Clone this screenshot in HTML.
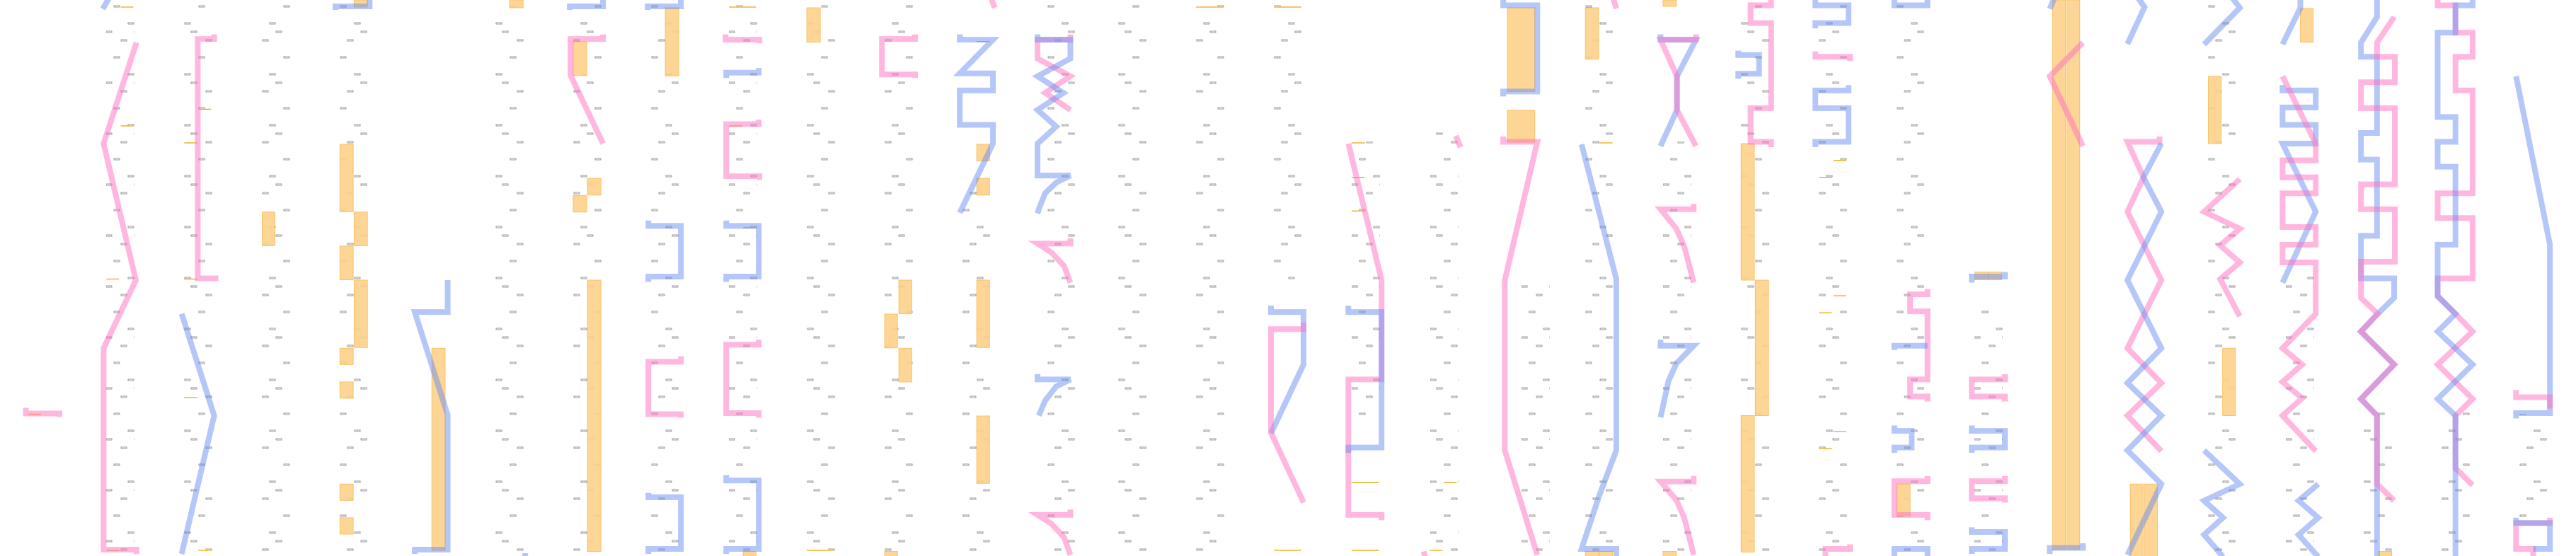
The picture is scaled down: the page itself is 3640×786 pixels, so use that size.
<!DOCTYPE html>
<html><head><meta charset="utf-8"><style>
html,body{margin:0;padding:0;background:#fff;}
svg{display:block;}
.p{fill:none;stroke:#ff70c0;stroke-opacity:.5;stroke-width:8;stroke-linejoin:miter;}
.b{fill:none;stroke:#6a8ff2;stroke-opacity:.5;stroke-width:8;stroke-linejoin:miter;}
.o{fill:#fdd08a;fill-opacity:.9;stroke:#f7c36a;stroke-width:1;}
.ol{stroke:#f0a400;stroke-width:2.5;}
</style></head><body>
<svg width="3640" height="786" viewBox="0 0 3640 786" xmlns="http://www.w3.org/2000/svg">
<defs>
<pattern id="d" patternUnits="userSpaceOnUse" width="40" height="72" y="7">
<rect x="1" y="1" width="8" height="2" fill="#fff" stroke="#999" stroke-width="1"/>
<rect x="21" y="25" width="8" height="2" fill="#fff" stroke="#999" stroke-width="1"/>
<rect x="11" y="49" width="8" height="2" fill="#fff" stroke="#999" stroke-width="1"/>
<rect x="30" y="37" width="8" height="2" fill="#fff" stroke="#999" stroke-width="1"/>
</pattern>
</defs>
<g fill="url(#d)">
<rect x="150" y="0" width="40" height="786"/><rect x="260" y="0" width="40" height="786"/>
<rect x="370" y="0" width="40" height="786"/><rect x="480" y="0" width="40" height="786"/>
<rect x="700" y="0" width="40" height="786"/><rect x="810" y="0" width="40" height="786"/>
<rect x="920" y="0" width="40" height="786"/><rect x="1030" y="0" width="40" height="786"/>
<rect x="1140" y="0" width="40" height="786"/><rect x="1250" y="0" width="40" height="786"/>
<rect x="1360" y="270" width="40" height="516"/><rect x="1480" y="0" width="40" height="786"/>
<rect x="1580" y="0" width="40" height="786"/><rect x="1690" y="0" width="40" height="786"/>
<rect x="1800" y="0" width="40" height="400"/><rect x="1910" y="200" width="40" height="400"/>
<rect x="2021" y="180" width="40" height="600"/><rect x="2150" y="400" width="40" height="386"/>
<rect x="2240" y="0" width="40" height="786"/><rect x="2350" y="200" width="40" height="586"/>
<rect x="2460" y="0" width="40" height="786"/><rect x="2570" y="0" width="40" height="786"/>
<rect x="2680" y="0" width="40" height="786"/><rect x="2790" y="420" width="40" height="366"/>
<rect x="3120" y="0" width="40" height="786"/><rect x="3230" y="380" width="40" height="406"/>
<rect x="3340" y="580" width="40" height="206"/><rect x="3450" y="580" width="40" height="206"/>
<rect x="3560" y="585" width="40" height="150"/>
</g>

<!-- zoom1 region 0-700 -->
<g transform="translate(0,0) scale(0.4464,0.5013)">
<rect class="o" vector-effect="non-scaling-stroke" x="830" y="598" width="40" height="95"/>
<rect class="o" vector-effect="non-scaling-stroke" x="1076" y="407" width="42" height="190"/>
<rect class="o" vector-effect="non-scaling-stroke" x="1121" y="598" width="42" height="95"/>
<rect class="o" vector-effect="non-scaling-stroke" x="1076" y="694" width="42" height="95"/>
<rect class="o" vector-effect="non-scaling-stroke" x="1121" y="790" width="42" height="190"/>
<rect class="o" vector-effect="non-scaling-stroke" x="1076" y="982" width="42" height="46"/>
<rect class="o" vector-effect="non-scaling-stroke" x="1076" y="1077" width="42" height="46"/>
<rect class="o" vector-effect="non-scaling-stroke" x="1076" y="1365" width="42" height="46"/>
<rect class="o" vector-effect="non-scaling-stroke" x="1076" y="1460" width="42" height="46"/>
<rect class="o" vector-effect="non-scaling-stroke" x="1121" y="0" width="42" height="20"/>
<rect class="o" vector-effect="non-scaling-stroke" x="1367" y="982" width="42" height="570"/>
<g class="ol" vector-effect="non-scaling-stroke">
<line x1="382" y1="20" x2="422" y2="20"/><line x1="382" y1="355" x2="422" y2="355"/>
<line x1="337" y1="787" x2="377" y2="787"/><line x1="337" y1="1552" x2="377" y2="1552"/>
<line x1="628" y1="308" x2="668" y2="308"/><line x1="583" y1="403" x2="625" y2="403"/>
<line x1="583" y1="787" x2="625" y2="787"/><line x1="583" y1="1121" x2="625" y2="1121"/>
<line x1="628" y1="1552" x2="668" y2="1552"/><line x1="90" y1="1168" x2="130" y2="1168"/>
</g>
<polyline class="b" vector-effect="non-scaling-stroke" points="345,-5 325,25"/>
<polyline class="p" vector-effect="non-scaling-stroke" points="82,1150 82,1166 188,1166 188,1176"/>
<polyline class="p" vector-effect="non-scaling-stroke" points="432,120 328,405 430,790 328,982 328,1550 432,1550 432,1562"/>
<polyline class="p" vector-effect="non-scaling-stroke" points="678,97 678,110 626,110 626,785 682,785 682,792"/>
<polyline class="b" vector-effect="non-scaling-stroke" points="575,885 678,1172 575,1562"/>
<polyline class="b" vector-effect="non-scaling-stroke" points="1062,28 1062,18 1170,18 1170,-5"/>
<polyline class="b" vector-effect="non-scaling-stroke" points="1417,790 1417,880 1313,880 1417,1170 1417,1550 1313,1550 1313,1562"/>
</g>

<!-- zoom3 region 700-1450 -->
<g transform="translate(700,0) scale(0.4783,0.5013)">
<rect class="o" vector-effect="non-scaling-stroke" x="42" y="0" width="40" height="22"/>
<rect class="o" vector-effect="non-scaling-stroke" x="230" y="118" width="40" height="95"/>
<rect class="o" vector-effect="non-scaling-stroke" x="272" y="503" width="40" height="47"/>
<rect class="o" vector-effect="non-scaling-stroke" x="230" y="551" width="40" height="47"/>
<rect class="o" vector-effect="non-scaling-stroke" x="502" y="22" width="40" height="192"/>
<rect class="o" vector-effect="non-scaling-stroke" x="920" y="22" width="40" height="97"/>
<rect class="o" vector-effect="non-scaling-stroke" x="1422" y="407" width="38" height="47"/>
<rect class="o" vector-effect="non-scaling-stroke" x="1422" y="503" width="38" height="47"/>
<rect class="o" vector-effect="non-scaling-stroke" x="272" y="790" width="40" height="765"/>
<rect class="o" vector-effect="non-scaling-stroke" x="1192" y="790" width="38" height="95"/>
<rect class="o" vector-effect="non-scaling-stroke" x="1150" y="886" width="38" height="95"/>
<rect class="o" vector-effect="non-scaling-stroke" x="1192" y="982" width="38" height="95"/>
<rect class="o" vector-effect="non-scaling-stroke" x="1422" y="790" width="38" height="190"/>
<rect class="o" vector-effect="non-scaling-stroke" x="1422" y="1173" width="38" height="190"/>
<rect class="o" vector-effect="non-scaling-stroke" x="1150" y="1555" width="38" height="15"/>
<rect class="o" vector-effect="non-scaling-stroke" x="732" y="1555" width="38" height="15"/>
<g class="ol" vector-effect="non-scaling-stroke">
<line x1="690" y1="20" x2="770" y2="20"/><line x1="690" y1="355" x2="730" y2="355"/>
<line x1="732" y1="642" x2="770" y2="642"/><line x1="1422" y1="117" x2="1460" y2="117"/>
<line x1="920" y1="1552" x2="1000" y2="1552"/>
</g>
<polyline class="b" vector-effect="non-scaling-stroke" points="220,28 220,18 318,18 318,-5"/>
<polyline class="p" vector-effect="non-scaling-stroke" points="318,97 318,110 222,110 222,212 318,405"/>
<polyline class="b" vector-effect="non-scaling-stroke" points="450,28 450,18 548,18 548,-5"/>
<polyline class="p" vector-effect="non-scaling-stroke" points="680,97 680,112 780,112 780,122"/>
<polyline class="b" vector-effect="non-scaling-stroke" points="682,220 682,205 778,205 778,192"/>
<polyline class="p" vector-effect="non-scaling-stroke" points="778,337 778,350 682,350 682,497 780,497 780,507"/>
<polyline class="p" vector-effect="non-scaling-stroke" points="1240,97 1240,110 1142,110 1142,210 1240,210 1240,220"/>
<polyline class="p" vector-effect="non-scaling-stroke" points="1465,-5 1475,22"/>
<polyline class="b" vector-effect="non-scaling-stroke" points="1372,97 1372,112 1470,112 1372,207 1470,207 1470,255 1372,255 1372,352 1470,352 1470,405 1372,600"/>
<polyline class="b" vector-effect="non-scaling-stroke" points="452,622 452,637 548,637 548,780 452,780 452,795"/>
<polyline class="b" vector-effect="non-scaling-stroke" points="682,622 682,637 778,637 778,780 682,780 682,795"/>
<polyline class="p" vector-effect="non-scaling-stroke" points="548,1005 548,1020 452,1020 452,1168 548,1168 548,1178"/>
<polyline class="p" vector-effect="non-scaling-stroke" points="778,958 778,972 682,972 682,1165 778,1165 778,1178"/>
<polyline class="b" vector-effect="non-scaling-stroke" points="452,1390 452,1402 548,1402 548,1548 452,1548 452,1562"/>
<polyline class="b" vector-effect="non-scaling-stroke" points="682,1340 682,1355 778,1355 778,1548 682,1548 682,1562"/>
<polyline class="b" vector-effect="non-scaling-stroke" points="88,1560 88,1575"/>
</g>

<!-- zoom4 region 1450-2150 -->
<g transform="translate(1450,0) scale(0.4464,0.5013)">
<g class="ol" vector-effect="non-scaling-stroke">
<line x1="538" y1="20" x2="624" y2="20"/><line x1="785" y1="20" x2="870" y2="20"/>
<line x1="785" y1="1552" x2="870" y2="1552"/><line x1="1030" y1="1552" x2="1117" y2="1552"/>
<line x1="1030" y1="1361" x2="1117" y2="1361"/><line x1="1030" y1="403" x2="1072" y2="403"/>
<line x1="1030" y1="500" x2="1072" y2="500"/><line x1="1030" y1="595" x2="1072" y2="595"/>
<line x1="1322" y1="1361" x2="1363" y2="1361"/><line x1="1278" y1="1552" x2="1318" y2="1552"/>
</g>
<polyline class="p" vector-effect="non-scaling-stroke" points="140,97 140,112 36,112 36,165 140,215 60,262 140,310"/>
<polyline class="b" vector-effect="non-scaling-stroke" points="36,97 36,112 140,112 140,165 36,215 118,262 36,310 95,357 36,405 36,495 140,495 95,515 60,545 40,590 36,602"/>
<polyline class="p" vector-effect="non-scaling-stroke" points="140,672 140,687 36,687 80,712 120,750 140,797"/>
<polyline class="b" vector-effect="non-scaling-stroke" points="36,1055 36,1070 140,1070 95,1090 60,1130 40,1172"/>
<polyline class="p" vector-effect="non-scaling-stroke" points="140,1437 140,1452 36,1452 80,1477 120,1515 140,1565"/>
<polyline class="b" vector-effect="non-scaling-stroke" points="775,862 775,880 878,880 878,1028 775,1222"/>
<polyline class="p" vector-effect="non-scaling-stroke" points="878,910 878,928 775,928 775,1220 878,1417"/>
<polyline class="p" vector-effect="non-scaling-stroke" points="1020,405 1125,790 1125,1070 1020,1070 1020,1452 1125,1452 1125,1467"/>
<polyline class="b" vector-effect="non-scaling-stroke" points="1020,862 1020,880 1125,880 1125,1262 1020,1262 1020,1277"/>
<polyline class="p" vector-effect="non-scaling-stroke" points="1360,383 1375,415"/>
<polyline class="p" vector-effect="non-scaling-stroke" points="1258,1555 1265,1575"/>
</g>

<!-- zoom5 region 2150-2850 -->
<g transform="translate(2150,0) scale(0.4464,0.5013)">
<rect class="o" vector-effect="non-scaling-stroke" x="-45" y="22" width="87" height="236"/>
<rect class="o" vector-effect="non-scaling-stroke" x="-45" y="311" width="87" height="90"/>
<rect class="o" vector-effect="non-scaling-stroke" x="202" y="22" width="42" height="145"/>
<rect class="o" vector-effect="non-scaling-stroke" x="202" y="1555" width="42" height="15"/>
<rect class="o" vector-effect="non-scaling-stroke" x="246" y="1555" width="42" height="15"/>
<rect class="o" vector-effect="non-scaling-stroke" x="448" y="0" width="42" height="18"/>
<rect class="o" vector-effect="non-scaling-stroke" x="448" y="1555" width="42" height="15"/>
<rect class="o" vector-effect="non-scaling-stroke" x="695" y="405" width="42" height="385"/>
<rect class="o" vector-effect="non-scaling-stroke" x="740" y="790" width="42" height="382"/>
<rect class="o" vector-effect="non-scaling-stroke" x="695" y="1172" width="42" height="385"/>
<rect class="o" vector-effect="non-scaling-stroke" x="1188" y="1365" width="42" height="90"/>
<rect class="o" vector-effect="non-scaling-stroke" x="1435" y="767" width="42" height="22"/>
<rect class="o" vector-effect="non-scaling-stroke" x="1478" y="767" width="42" height="22"/>
<g class="ol" vector-effect="non-scaling-stroke">
<line x1="246" y1="403" x2="288" y2="403"/>
<line x1="987" y1="452" x2="1027" y2="452"/><line x1="942" y1="500" x2="982" y2="500"/>
<line x1="987" y1="834" x2="1027" y2="834"/><line x1="942" y1="882" x2="982" y2="882"/>
<line x1="987" y1="1217" x2="1027" y2="1217"/><line x1="942" y1="1265" x2="982" y2="1265"/>
</g>
<polyline class="b" vector-effect="non-scaling-stroke" points="-58,0 -58,15 50,15 50,258 -58,258 -58,272"/>
<polyline class="p" vector-effect="non-scaling-stroke" points="-58,385 -58,400 50,400 -53,790 -53,1270 50,1565"/>
<polyline class="p" vector-effect="non-scaling-stroke" points="290,-5 300,24"/>
<polyline class="b" vector-effect="non-scaling-stroke" points="190,407 300,787 300,1270 245,1400 190,1548 300,1548 300,1570"/>
<polyline class="b" vector-effect="non-scaling-stroke" points="440,97 440,112 552,112 492,215 492,310 440,412"/>
<polyline class="p" vector-effect="non-scaling-stroke" points="552,97 552,112 440,112 492,215 492,310 552,412"/>
<polyline class="p" vector-effect="non-scaling-stroke" points="545,575 545,590 440,590 490,645 515,695 545,797"/>
<polyline class="b" vector-effect="non-scaling-stroke" points="440,1177 465,1075 490,1025 545,975 440,975 440,958"/>
<polyline class="p" vector-effect="non-scaling-stroke" points="545,1342 545,1358 440,1358 490,1410 515,1460 545,1565"/>
<polyline class="p" vector-effect="non-scaling-stroke" points="790,-5 790,15 725,15 725,65 790,65 790,305 725,305 725,400 790,400 790,415"/>
<polyline class="b" vector-effect="non-scaling-stroke" points="686,143 686,155 752,155 752,208 686,208 686,222"/>
<polyline class="b" vector-effect="non-scaling-stroke" points="930,-5 930,15 1035,15 1035,65 930,65 930,80"/>
<polyline class="p" vector-effect="non-scaling-stroke" points="930,145 930,160 1040,160 1040,172"/>
<polyline class="b" vector-effect="non-scaling-stroke" points="1035,240 1035,255 930,255 930,305 1035,305 1035,400 930,400 930,415"/>
<polyline class="p" vector-effect="non-scaling-stroke" points="962,1570 962,1548 1040,1548 1040,1535"/>
<polyline class="b" vector-effect="non-scaling-stroke" points="1180,-5 1180,15 1285,15 1285,-5"/>
<polyline class="p" vector-effect="non-scaling-stroke" points="1285,815 1285,830 1230,830 1230,878 1285,878 1285,1070 1230,1070 1230,1118 1285,1118 1285,1132"/>
<polyline class="b" vector-effect="non-scaling-stroke" points="1180,987 1180,975 1285,975"/>
<polyline class="b" vector-effect="non-scaling-stroke" points="1180,1200 1180,1215 1235,1215 1235,1262 1180,1262 1180,1277"/>
<polyline class="p" vector-effect="non-scaling-stroke" points="1285,1342 1285,1357 1180,1357 1180,1452 1285,1452 1285,1467"/>
<polyline class="b" vector-effect="non-scaling-stroke" points="1180,1570 1180,1548 1285,1548 1285,1570"/>
<polyline class="b" vector-effect="non-scaling-stroke" points="1425,797 1425,780 1530,780 1530,767"/>
<polyline class="p" vector-effect="non-scaling-stroke" points="1530,1055 1530,1070 1425,1070 1425,1118 1530,1118 1530,1132"/>
<polyline class="b" vector-effect="non-scaling-stroke" points="1425,1200 1425,1215 1530,1215 1530,1262 1425,1262 1425,1277"/>
<polyline class="p" vector-effect="non-scaling-stroke" points="1530,1342 1530,1357 1425,1357 1425,1405 1530,1405 1530,1417"/>
<polyline class="b" vector-effect="non-scaling-stroke" points="1425,1487 1425,1500 1530,1500 1530,1548 1425,1548 1425,1562"/>
</g>

<!-- zoom2 region 2850-3640 -->
<g transform="translate(2850,0) scale(0.5038,0.5013)">
<rect class="o" vector-effect="non-scaling-stroke" x="100" y="0" width="36" height="1550"/>
<rect class="o" vector-effect="non-scaling-stroke" x="140" y="0" width="36" height="1550"/>
<rect class="o" vector-effect="non-scaling-stroke" x="318" y="1365" width="36" height="205"/>
<rect class="o" vector-effect="non-scaling-stroke" x="358" y="1365" width="36" height="205"/>
<rect class="o" vector-effect="non-scaling-stroke" x="537" y="215" width="36" height="190"/>
<rect class="o" vector-effect="non-scaling-stroke" x="577" y="982" width="36" height="190"/>
<rect class="o" vector-effect="non-scaling-stroke" x="795" y="24" width="36" height="95"/>
<rect class="o" vector-effect="non-scaling-stroke" x="1015" y="1555" width="36" height="15"/>
<polyline class="b" vector-effect="non-scaling-stroke" points="92,25 105,-5"/>
<polyline class="b" vector-effect="non-scaling-stroke" points="92,1562 92,1545 185,1545 185,1532"/>
<polyline class="p" vector-effect="non-scaling-stroke" points="185,120 92,215 185,412"/>
<polyline class="b" vector-effect="non-scaling-stroke" points="340,-5 358,20 310,124"/>
<polyline class="p" vector-effect="non-scaling-stroke" points="400,385 400,400 310,400 355,500 310,597 405,790 310,982 405,1080 310,1172 405,1272"/>
<polyline class="b" vector-effect="non-scaling-stroke" points="405,405 355,500 405,597 310,790 405,982 310,1080 405,1172 310,1270 405,1365 310,1565"/>
<polyline class="b" vector-effect="non-scaling-stroke" points="525,125 625,22 605,-5"/>
<polyline class="p" vector-effect="non-scaling-stroke" points="625,505 525,597 625,645 570,692 625,740 570,787 625,892"/>
<polyline class="b" vector-effect="non-scaling-stroke" points="525,1270 625,1365 525,1412 578,1460 525,1508 578,1570"/>
<polyline class="b" vector-effect="non-scaling-stroke" points="745,125 795,22 795,-5"/>
<polyline class="b" vector-effect="non-scaling-stroke" points="745,240 745,255 838,255 838,303 745,303 745,352 838,352 838,405 745,405 838,597 745,797"/>
<polyline class="p" vector-effect="non-scaling-stroke" points="745,215 838,405 838,452 745,452 745,500 838,500 838,545 745,545 745,640 838,640 838,690 745,690 745,740 838,740 838,885 745,982 800,1028 745,1077 800,1123 745,1172 838,1272"/>
<polyline class="b" vector-effect="non-scaling-stroke" points="845,1365 790,1412 845,1460 790,1508 845,1570"/>
<polyline class="b" vector-effect="non-scaling-stroke" points="1010,-5 1010,48 965,120 965,160 1010,160 1010,375 965,375 965,450 1010,450 1010,665 965,665 965,785 1058,785 1058,840 1012,885 965,935 1058,1028 965,1125 1010,1172 1010,1570"/>
<polyline class="p" vector-effect="non-scaling-stroke" points="1058,48 1010,120 1010,160 1060,160 1060,232 965,232 965,305 1060,305 1060,520 965,520 965,590 1060,590 1060,738 965,738 965,840 1012,885 965,935 1058,1028 965,1125 1010,1172 1010,1365 1058,1412"/>
<polyline class="p" vector-effect="non-scaling-stroke" points="1180,-5 1180,15 1230,15 1230,92 1278,92 1278,160 1230,160 1230,255 1278,255 1278,545 1180,545 1180,615 1278,615 1278,785 1180,785 1180,835 1230,885 1278,935 1180,1028 1278,1125 1230,1172 1230,1320 1278,1368"/>
<polyline class="b" vector-effect="non-scaling-stroke" points="1278,-5 1278,15 1230,15 1230,92 1180,92 1180,330 1230,330 1230,400 1180,400 1180,470 1230,470 1230,690 1180,690 1180,835 1230,885 1180,935 1278,1028 1180,1125 1230,1172 1230,1570"/>
<polyline class="b" vector-effect="non-scaling-stroke" points="1400,215 1495,690 1495,1165 1400,1165 1400,1180"/>
<polyline class="p" vector-effect="non-scaling-stroke" points="1400,1100 1400,1120 1495,1120 1495,1152"/>
<polyline class="p" vector-effect="non-scaling-stroke" points="1495,1460 1495,1475 1400,1475 1400,1548 1448,1548 1448,1570"/>
<polyline class="b" vector-effect="non-scaling-stroke" points="1400,1460 1400,1475 1495,1475 1495,1548 1448,1548"/>
</g>
</svg>
</body></html>
